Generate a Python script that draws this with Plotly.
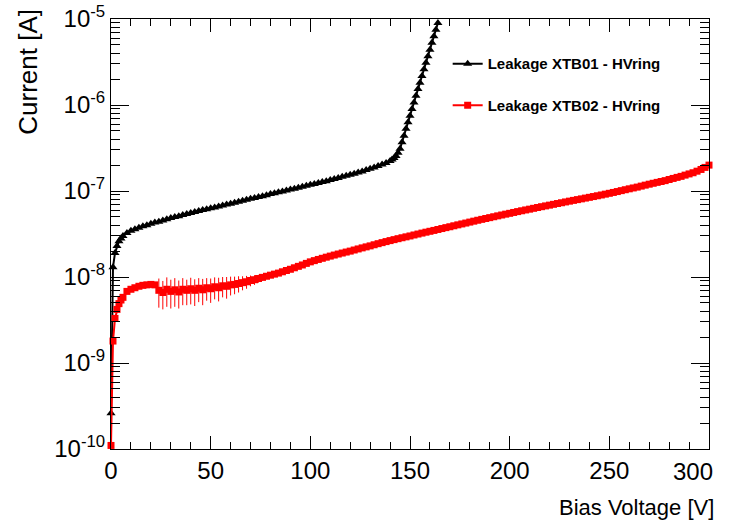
import plotly.graph_objects as go

# ---- data ----
v_xtb01 = [0, 1, 2, 3, 4, 5, 6, 8, 10, 12, 14, 16, 18, 20, 22, 24, 26, 28, 30, 32, 34, 36, 38, 40,
           42, 44, 46, 48, 50, 52, 54, 56, 58, 60, 62, 64, 66, 68, 70, 72, 74, 76, 78, 80,
           82, 84, 86, 88, 90, 92, 94, 96, 98, 100, 102, 104, 106, 108, 110, 112, 114, 116, 118, 120,
           122, 124, 126, 128, 130, 132, 134, 136, 138, 140, 141, 142, 143, 144, 145, 146, 147, 148,
           149, 150, 151, 152, 153, 154, 155, 156, 157, 158, 159, 160, 161, 162, 163, 164]
i_xtb01 = [2.6e-10, 1.3e-8, 1.9e-8, 2.3e-8, 2.6e-8, 2.8e-8, 3.0e-8, 3.25e-8, 3.45e-8, 3.6e-8, 3.75e-8,
           3.9e-8, 4.0e-8, 4.15e-8, 4.3e-8, 4.4e-8, 4.55e-8, 4.7e-8, 4.85e-8, 5.0e-8, 5.1e-8, 5.25e-8,
           5.4e-8, 5.55e-8, 5.7e-8, 5.85e-8, 6.0e-8, 6.15e-8, 6.3e-8, 6.45e-8, 6.6e-8, 6.8e-8, 6.95e-8,
           7.1e-8, 7.3e-8, 7.5e-8, 7.7e-8, 7.9e-8, 8.1e-8, 8.3e-8, 8.5e-8, 8.7e-8, 8.95e-8, 9.2e-8,
           9.4e-8, 9.65e-8, 9.9e-8, 1.015e-7, 1.04e-7, 1.065e-7, 1.09e-7, 1.12e-7, 1.15e-7, 1.18e-7,
           1.21e-7, 1.24e-7, 1.27e-7, 1.30e-7, 1.34e-7, 1.38e-7, 1.42e-7, 1.46e-7, 1.50e-7, 1.54e-7,
           1.59e-7, 1.64e-7, 1.69e-7, 1.75e-7, 1.81e-7, 1.88e-7, 1.95e-7, 2.03e-7, 2.12e-7, 2.24e-7,
           2.32e-7, 2.42e-7, 2.55e-7, 2.78e-7, 3.1e-7, 3.7e-7, 4.4e-7, 5.3e-7, 6.3e-7, 7.5e-7, 9.0e-7,
           1.07e-6, 1.28e-6, 1.53e-6, 1.82e-6, 2.18e-6, 2.6e-6, 3.1e-6, 3.7e-6, 4.4e-6, 5.3e-6, 6.3e-6,
           7.5e-6, 9.0e-6]

v_xtb02 = [0, 1, 2, 3, 4, 5, 6, 8, 10, 12, 14, 16, 18, 20, 22, 24, 26, 28, 30, 32, 34, 36, 38, 40,
           42, 44, 46, 48, 50, 52, 54, 56, 58, 60, 62, 64, 66, 68, 70, 72, 74, 76, 78, 80,
           82, 84, 86, 88, 90, 92, 94, 96, 98, 100, 102, 104, 106, 108, 110, 112, 114, 116, 118, 120,
           122, 124, 126, 128, 130, 132, 134, 136, 138, 140, 142, 144, 146, 148, 150, 152, 154, 156,
           158, 160, 162, 164, 166, 168, 170, 172, 174, 176, 178, 180, 182, 184, 186, 188, 190, 192,
           194, 196, 198, 200, 202, 204, 206, 208, 210, 212, 214, 216, 218, 220, 222, 224, 226, 228,
           230, 232, 234, 236, 238, 240, 242, 244, 246, 248, 250, 252, 254, 256, 258, 260, 262, 264,
           266, 268, 270, 272, 274, 276, 278, 280, 282, 284, 286, 288, 290, 292, 294, 296, 298, 300]
# current in nA
i_xtb02_nA = [0.11, 1.8, 3.3, 4.2, 4.9, 5.4, 5.8, 6.8, 7.2, 7.5, 7.8, 8.0, 8.1, 8.2, 8.1,
              7.0, 6.6, 7.2, 6.8, 7.1, 6.7, 7.2, 7.0, 7.3, 7.0, 7.4, 7.1, 7.5, 7.3, 7.7, 7.5, 7.9, 7.8,
              8.1, 8.2, 8.4, 8.6, 8.8, 9.1, 9.3, 9.6, 9.9, 10.2, 10.5, 10.8, 11.1, 11.5, 11.9, 12.3,
              12.8, 13.3, 13.8, 14.4, 15.0, 15.5, 16.0, 16.5, 17.0, 17.5, 18.0, 18.5, 19.0, 19.5, 20.0,
              20.6, 21.2, 21.8, 22.4, 23.0, 23.7, 24.4, 25.1, 25.8, 26.5, 27.2, 27.9, 28.6, 29.3, 30.0,
              30.8, 31.6, 32.4, 33.2, 34.0, 34.8, 35.7, 36.6, 37.5, 38.4, 39.4, 40.4, 41.4, 42.4, 43.5,
              44.6, 45.7, 46.8, 47.9, 49.0, 50.2, 51.4, 52.6, 53.8, 55.0, 56.3, 57.6, 58.9, 60.2, 61.5,
              62.9, 64.3, 65.7, 67.1, 68.5, 70.0, 71.5, 73.0, 74.6, 76.2, 77.8, 79.4, 81.0, 82.7, 84.4,
              86.2, 88.0, 89.9, 91.9, 94.0, 96.2, 98.5, 101, 103.5, 106, 108.5, 111, 114, 117, 120,
              123, 126, 129, 132, 136, 140, 144, 148, 153, 158, 163, 170, 178, 188, 200]
err_xtb02_nA = [0.01, 0.05, 0.05, 0.05, 0.05, 0.05, 0.05, 0.05, 0.05, 0.05, 0.05, 0.05, 0.05, 0.05, 0.1,
                2.6, 2.4, 2.7, 2.5, 2.6, 2.4, 2.5, 2.3, 2.5, 2.4, 2.3, 2.4, 2.2, 2.3, 2.2, 2.3, 2.1, 2.2,
                2.0, 1.9, 1.8, 1.6, 1.5, 1.3, 1.2, 1.0, 0.8, 0.6, 0.5, 0.4, 0.3, 0.2, 0.2, 0.2,
                0.2, 0.2, 0.2, 0.2, 0.2, 0.2, 0.2, 0.2, 0.2, 0.2, 0.2, 0.2, 0.2, 0.2, 0.2,
                0.2, 0.2, 0.2, 0.2, 0.2, 0.2, 0.2, 0.2, 0.2, 0.2, 0.2, 0.2, 0.2, 0.2, 0.2,
                0.2, 0.2, 0.2, 0.2, 0.2, 0.2, 0.2, 0.2, 0.2, 0.2, 0.2, 0.2, 0.2, 0.2, 0.2,
                0.2, 0.2, 0.2, 0.2, 0.2, 0.2, 0.2, 0.2, 0.2, 0.2, 0.2, 0.2, 0.2, 0.2, 0.2,
                0.2, 0.2, 0.2, 0.2, 0.2, 0.2, 0.2, 0.2, 0.2, 0.2, 0.2, 0.2, 0.2, 0.2, 0.2,
                0.2, 0.2, 0.2, 0.2, 0.2, 0.2, 0.2, 0.2, 0.2, 0.2, 0.2, 0.2, 0.2, 0.2, 0.2,
                0.2, 0.2, 0.2, 0.2, 0.2, 0.2, 0.2, 0.2, 0.2, 0.2, 0.2, 0.2, 0.2, 0.2, 0.2]

x_tick_vals = [0, 50, 100, 150, 200, 250, 300]
x_tick_text = ["0", "50", "100", "150", "200", "250", "300"]
y_tick_vals = [1e-10, 1e-9, 1e-8, 1e-7, 1e-6, 1e-5]
y_tick_text = ["10<sup>-10</sup>", "10<sup>-9</sup>", "10<sup>-8</sup>",
               "10<sup>-7</sup>", "10<sup>-6</sup>", "10<sup>-5</sup>"]
name_1 = "Leakage XTB01 - HVring"
name_2 = "Leakage XTB02 - HVring"

i_xtb02 = [v * 1e-9 for v in i_xtb02_nA]
err_xtb02 = [v * 1e-9 for v in err_xtb02_nA]
y_minor = [m * 10.0 ** e for e in range(-10, -5) for m in range(2, 10)]

FONT = "Liberation Sans, Arial, Helvetica, sans-serif"

# last x label is shifted inwards (as in the reference); drawn as annotation
x_text_axis = x_tick_text[:-1] + [""]

fig = go.Figure()
fig.add_trace(go.Scatter(
    x=v_xtb01, y=i_xtb01, mode="lines+markers", name=name_1,
    line=dict(color="black", width=2),
    marker=dict(symbol="triangle-up", size=8, color="black"),
    cliponaxis=False, legendgroup="a"))
fig.add_trace(go.Scatter(
    x=v_xtb02, y=i_xtb02, mode="lines+markers", name=name_2,
    line=dict(color="red", width=2),
    marker=dict(symbol="square", size=7, color="red"),
    error_y=dict(type="data", array=err_xtb02, color="red", thickness=1, width=0),
    cliponaxis=False, legendgroup="b"))

fig.update_layout(
    width=729, height=528,
    margin=dict(l=111, r=20, t=19, b=79),
    paper_bgcolor="white", plot_bgcolor="white",
    font=dict(family=FONT, color="black"),
    showlegend=True,
    legend=dict(x=0.563, y=0.934, xanchor="left", yanchor="top",
                bgcolor="rgba(0,0,0,0)", borderwidth=0,
                font=dict(size=15, family=FONT, weight=700),
                tracegroupgap=19, itemwidth=30),
    xaxis=dict(range=[0, 300], showgrid=False, zeroline=False, automargin=False,
               showline=True, linecolor="black", linewidth=1, mirror="ticks",
               ticks="inside", ticklen=13, tickcolor="black",
               tickvals=x_tick_vals, ticktext=x_text_axis,
               tickfont=dict(size=24, family=FONT),
               minor=dict(dtick=10, tick0=0, ticks="inside", ticklen=7, tickcolor="black")),
    yaxis=dict(type="log", range=[-10, -5], showgrid=False, zeroline=False, automargin=False,
               showline=True, linecolor="black", linewidth=1, mirror="ticks",
               ticks="inside", ticklen=18, tickcolor="black",
               tickvals=y_tick_vals, ticktext=y_tick_text,
               tickfont=dict(size=24, family=FONT),
               minor=dict(tickvals=y_minor, ticks="inside", ticklen=9, tickcolor="black")),
    annotations=[
        dict(text=x_tick_text[-1], xref="paper", yref="paper", x=(693 - 111) / 598, y=-(471 - 449) / 430,
             xanchor="center", yanchor="middle", showarrow=False,
             font=dict(size=24, family=FONT)),
        dict(text="Bias Voltage [V]", xref="paper", yref="paper", x=1.012, y=-0.137,
             xanchor="right", yanchor="middle", showarrow=False,
             font=dict(size=22, family=FONT)),
        dict(text="Current [A]", xref="paper", yref="paper", x=-0.139, y=0.877,
             xanchor="center", yanchor="middle", textangle=-90, showarrow=False,
             font=dict(size=26, family=FONT)),
    ],
)

fig.write_html("out.html")
